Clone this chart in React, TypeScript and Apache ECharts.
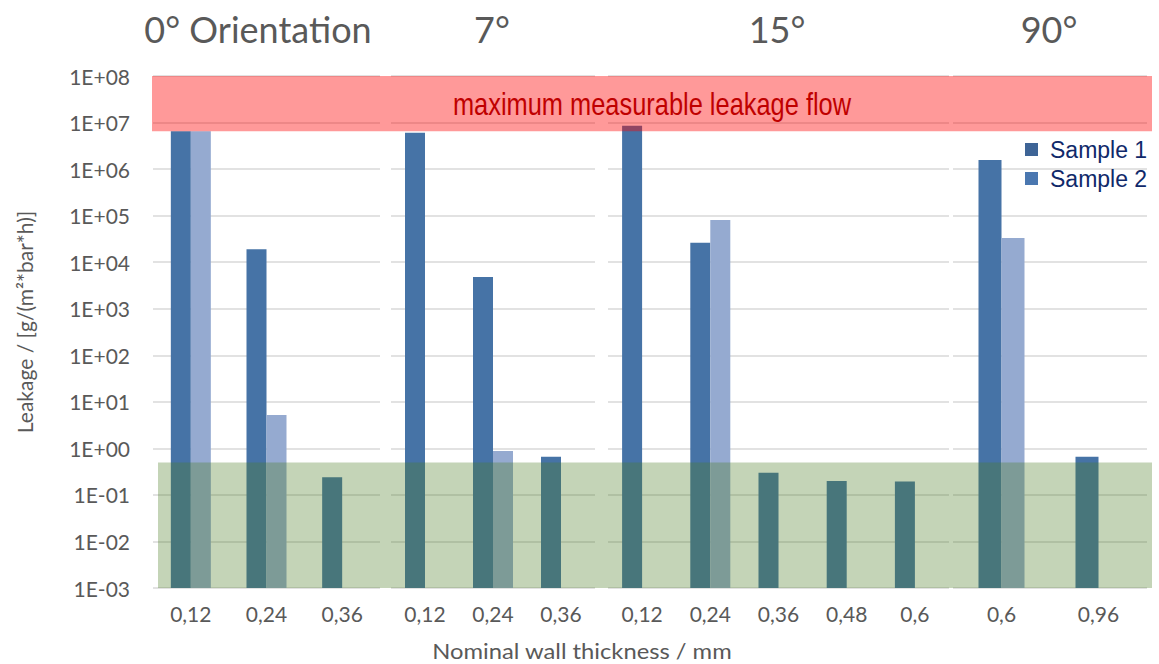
import React, { useEffect, useRef } from 'react';
import * as echarts from 'echarts';

// ---------- data ----------
const panelTitles = ['0° Orientation', '7°', '15°', '90°'];
const categories0 = ['0,12', '0,24', '0,36'];
const categories7 = ['0,12', '0,24', '0,36'];
const categories15 = ['0,12', '0,24', '0,36', '0,48', '0,6'];
const categories90 = ['0,6', '0,96'];

const sample1_0 = [6.5e6, 1.9e4, 0.24];
const sample2_0 = [6.5e6, 5.2, null];
const sample1_7 = [6.0e6, 4.8e3, 0.66];
const sample2_7 = [null, 0.88, null];
const sample1_15 = [8.5e6, 2.6e4, 0.3, 0.2, 0.195];
const sample2_15 = [null, 8.1e4, null, null, null];
const sample1_90 = [1.57e6, 0.66];
const sample2_90 = [3.3e4, null];

const yMin = 1e-3;
const yMax = 1e8;
const maxMeasurable = 6.5e6; // lower edge of the red band
const detectionLimit = 0.5; // upper edge of the green band

const seriesNames = ['Sample 1', 'Sample 2'];
const bandLabel = 'maximum measurable leakage flow';
const xAxisTitle = 'Nominal wall thickness / mm';
const yAxisTitle = 'Leakage / [g/(m²*bar*h)]';

// ---------- layout / style ----------
const panels = [
  { cats: categories0, s1: sample1_0, s2: sample2_0, left: 153, width: 227, barWidth: 20, titleX: 258 },
  { cats: categories7, s1: sample1_7, s2: sample2_7, left: 391, width: 204, barWidth: 20, titleX: 492 },
  { cats: categories15, s1: sample1_15, s2: sample2_15, left: 608, width: 341, barWidth: 20, titleX: 777 },
  { cats: categories90, s1: sample1_90, s2: sample2_90, left: 953, width: 194, barWidth: 23, titleX: 1049 },
];
const GRID_TOP = 76;
const GRID_HEIGHT = 512;
const FONT = 'Lato, "Open Sans", sans-serif';
const GREY = '#595959';
const C1 = '#4673a6';
const C2 = '#95aad0';

const expLabel = (v: number) => {
  const e = Math.round(Math.log10(v));
  return '1E' + (e < 0 ? '-' : '+') + String(Math.abs(e)).padStart(2, '0');
};

export default function App() {
  const ref = useRef<HTMLDivElement>(null);
  useEffect(() => {
    if (!ref.current) return;
    const chart = echarts.init(ref.current, undefined, { renderer: 'svg' });

    const grid = panels.map((p) => ({
      left: p.left,
      top: GRID_TOP,
      width: p.width,
      height: GRID_HEIGHT,
      containLabel: false,
      outerBoundsMode: 'none',
    }));
    const xAxis = panels.map((p, i) => ({
      type: 'category',
      gridIndex: i,
      data: p.cats,
      axisLine: { show: false },
      axisTick: { show: false },
      axisLabel: { color: GREY, fontFamily: FONT, fontSize: 21, margin: 15 },
    }));
    const yAxis = panels.map((p, i) => ({
      type: 'log',
      logBase: 10,
      gridIndex: i,
      min: yMin,
      max: yMax,
      interval: 1,
      splitNumber: 11,
      startValue: yMin,
      axisLine: { show: false },
      axisTick: { show: false },
      axisLabel: {
        show: i === 0,
        color: GREY,
        fontFamily: FONT,
        fontSize: 21,
        margin: 23,
        hideOverlap: false,
        formatter: expLabel,
      },
      splitLine: { show: true, lineStyle: { color: '#d9d9d9', width: 1.5 } },
    }));
    const series: any[] = [];
    panels.forEach((p, i) => {
      series.push({
        type: 'bar',
        name: seriesNames[0],
        xAxisIndex: i,
        yAxisIndex: i,
        data: p.s1,
        barWidth: p.barWidth,
        barGap: '0%',
        itemStyle: { color: C1 },
      });
      series.push({
        type: 'bar',
        name: seriesNames[1],
        xAxisIndex: i,
        yAxisIndex: i,
        data: p.s2,
        barWidth: p.barWidth,
        barGap: '0%',
        itemStyle: { color: C2 },
      });
    });

    chart.setOption({
      animation: false,
      backgroundColor: '#ffffff',
      grid,
      xAxis,
      yAxis,
      series,
      legend: {
        orient: 'vertical',
        left: 1025,
        top: 138,
        padding: 0,
        itemWidth: 13,
        itemHeight: 13,
        itemGap: 6,
        icon: 'rect',
        data: [
          { name: seriesNames[0], itemStyle: { color: '#3e6496' } },
          { name: seriesNames[1], itemStyle: { color: '#4a77b0' } },
        ],
        textStyle: {
          color: '#10296a',
          fontFamily: '"Liberation Sans", Arial, sans-serif',
          fontSize: 23,
          lineHeight: 22,
          padding: [0, 0, 0, 7],
        },
      },
    });

    const yPx = (v: number) => chart.convertToPixel({ yAxisIndex: 0 }, v) as number;
    const last = panels[panels.length - 1];
    const bandX0 = panels[0].left - 1;
    const bandX1 = last.left + last.width + 5;
    const redTop = yPx(yMax);
    const redBottom = yPx(maxMeasurable);
    const greenTop = yPx(detectionLimit);
    const greenBottom = yPx(yMin);

    const graphic: any[] = [
      {
        type: 'rect',
        z: 10,
        shape: { x: bandX0, y: redTop, width: bandX1 - bandX0, height: redBottom - redTop },
        style: { fill: 'rgba(255,0,0,0.4)' },
      },
      {
        type: 'text',
        z: 11,
        x: (bandX0 + bandX1) / 2,
        y: (redTop + redBottom) / 2,
        scaleX: 0.82,
        style: {
          text: bandLabel,
          fill: '#c00000',
          font: '31px "Liberation Sans Narrow", "Liberation Sans", Arial, sans-serif',
          align: 'center',
          verticalAlign: 'middle',
        },
      },
      {
        type: 'rect',
        z: 10,
        shape: { x: panels[0].left + 5, y: greenTop, width: bandX1 - panels[0].left - 5, height: greenBottom - greenTop },
        style: { fill: 'rgba(77,123,37,0.33)' },
      },
      ...panels.map((p, i) => ({
        type: 'text',
        z: 11,
        x: p.titleX,
        y: 29,
        style: {
          text: panelTitles[i],
          fill: GREY,
          font: '36px ' + FONT,
          align: 'center',
          verticalAlign: 'middle',
        },
      })),
      {
        type: 'text',
        z: 11,
        x: 582,
        y: 650,
        scaleX: 1.08,
        style: { text: xAxisTitle, fill: GREY, font: '22px ' + FONT, align: 'center', verticalAlign: 'middle' },
      },
      {
        type: 'text',
        z: 11,
        x: 24,
        y: 322,
        rotation: Math.PI / 2,
        style: { text: yAxisTitle, fill: GREY, font: '21px ' + FONT, align: 'center', verticalAlign: 'middle' },
      },
    ];
    chart.setOption({ graphic });

    return () => chart.dispose();
  }, []);
  return (
    <div
      ref={ref}
      style={{ position: 'fixed', left: 0, top: 0, width: 1159, height: 664, background: '#fff' }}
    />
  );
}
